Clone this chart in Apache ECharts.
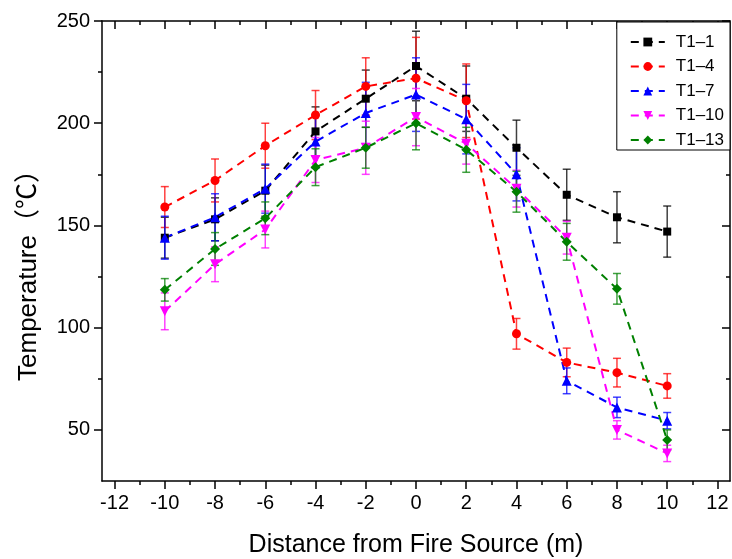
<!DOCTYPE html>
<html>
<head>
<meta charset="utf-8">
<script src="https://cdn.jsdelivr.net/npm/echarts@6/dist/echarts.min.js"></script>
<style>html,body{margin:0;padding:0;background:#fff}#c{width:732px;height:559px}</style>
</head>
<body>
<div id="c"></div>
<script>
const xs = [-10, -8, -6, -4, -2, 0, 2, 4, 6, 8, 10];
const t1_1 = [144, 153, 167, 196, 212, 228, 212, 188, 165, 154, 147];
const t1_1err = [10, 10.5, 12.5, 12, 14, 17, 16, 13.5, 12.5, 12.5, 12.5];
const t1_4 = [159, 172, 189, 204, 218, 222, 211, 97, 83, 78, 71.5];
const t1_4err = [10, 10.5, 11, 12, 14, 20, 18, 7.5, 7, 7, 6];
const t1_7 = [144, 154, 168, 191, 205, 214, 202, 175, 74, 61, 54.5];
const t1_7err = [10.5, 11.5, 12, 13, 15, 18, 17, 13, 6.3, 5, 4];
const t1_10 = [108, 131, 148, 182, 188, 203, 190, 168, 144, 50, 38.5];
const t1_10err = [9, 8.5, 9, 11, 13, 14, 10, 9, 8, 4.5, 4];
const t1_13 = [118.5, 138.5, 153.5, 178.5, 188, 200, 187, 166.5, 142, 119, 45];
const t1_13err = [5.5, 8, 8, 9, 10, 13, 11, 10, 9, 7.5, 5];

const names = ['T1\u20131', 'T1\u20134', 'T1\u20137', 'T1\u201310', 'T1\u201313'];
const colors = ['#000000', '#ff0000', '#0000ff', '#ff00ff', '#008000'];
const symbols = ['rect', 'circle', 'triangle', 'path://M0,0 L10,0 L5,9 Z', 'diamond'];
const symbolSizes = [8, 9, 10, 10, 10];
const values = [t1_1, t1_4, t1_7, t1_10, t1_13];
const errs = [t1_1err, t1_4err, t1_7err, t1_10err, t1_13err];

const xMajor = [-12, -10, -8, -6, -4, -2, 0, 2, 4, 6, 8, 10, 12];
const xMinor = [-11, -9, -7, -5, -3, -1, 1, 3, 5, 7, 9, 11];
const yMajor = [50, 100, 150, 200, 250];
const yMinor = [75, 125, 175, 225];

const FONT = 'Liberation Sans, Arial, sans-serif';
const chart = echarts.init(document.getElementById('c'));

function mkX(pos, ticks, len, inside, showLine, labels) {
  return {
    type: 'value', position: pos, min: -12.5, max: 12.5,
    axisLine: { show: showLine, onZero: false, lineStyle: { color: '#000', width: 1.5 } },
    axisTick: { show: true, customValues: ticks, length: len, inside: inside, lineStyle: { color: '#000', width: 1.5 } },
    axisLabel: labels ? { show: true, customValues: ticks, fontSize: 20, color: '#000', fontFamily: FONT, margin: 12 } : { show: false },
    splitLine: { show: false }
  };
}
function mkY(pos, ticks, len, inside, showLine, labels) {
  return {
    type: 'value', position: pos, min: 25, max: 250,
    axisLine: { show: showLine, onZero: false, lineStyle: { color: '#000', width: 1.5 } },
    axisTick: { show: true, customValues: ticks, length: len, inside: inside, lineStyle: { color: '#000', width: 1.5 } },
    axisLabel: labels ? { show: true, customValues: ticks, fontSize: 20, color: '#000', fontFamily: FONT, margin: 12 } : { show: false },
    splitLine: { show: false }
  };
}

const xAxes = [
  mkX('bottom', xMajor, 8, false, true, true),
  mkX('bottom', xMinor, 4, false, false, false),
  mkX('top', xMajor, 8, true, true, false),
  mkX('top', xMinor, 4, true, false, false)
];
Object.assign(xAxes[0], {
  name: 'Distance from Fire Source (m)', nameLocation: 'middle', nameGap: 52,
  nameTextStyle: { fontSize: 25, color: '#000', fontFamily: FONT }
});
const yAxes = [
  mkY('left', yMajor, 8, false, true, true),
  mkY('left', yMinor, 4, false, false, false),
  mkY('right', yMajor, 8, true, true, false),
  mkY('right', yMinor, 4, true, false, false)
];
Object.assign(yAxes[0], {
  name: 'Temperature\uff08\u2103\uff09', nameLocation: 'middle', nameGap: 60,
  nameTextStyle: { fontSize: 26, color: '#000', fontFamily: FONT + ', Noto Sans CJK SC', padding: [0, 36, 0, 0] }
});

const series = [];
values.forEach((vals, i) => {
  series.push({
    type: 'custom', name: 'err' + i, xAxisIndex: 0, yAxisIndex: 0, z: 2,
    data: xs.map((x, k) => [x, vals[k] - errs[i][k], vals[k] + errs[i][k]]),
    renderItem: function (params, api) {
      const lo = api.coord([api.value(0), api.value(1)]);
      const hi = api.coord([api.value(0), api.value(2)]);
      const hw = 4;
      const st = { stroke: colors[i], lineWidth: 1.5, opacity: 0.75 };
      return {
        type: 'group', children: [
          { type: 'line', shape: { x1: lo[0], y1: lo[1], x2: hi[0], y2: hi[1] }, style: st },
          { type: 'line', shape: { x1: lo[0] - hw, y1: lo[1], x2: lo[0] + hw, y2: lo[1] }, style: st },
          { type: 'line', shape: { x1: hi[0] - hw, y1: hi[1], x2: hi[0] + hw, y2: hi[1] }, style: st }
        ]
      };
    },
    silent: true, animation: false
  });
});
values.forEach((vals, i) => {
  series.push({
    type: 'line', name: names[i], xAxisIndex: 0, yAxisIndex: 0, z: 3,
    data: xs.map((x, k) => [x, vals[k]]),
    symbol: symbols[i], symbolSize: symbolSizes[i],
    itemStyle: { color: colors[i] },
    lineStyle: { color: colors[i], width: 2, type: [8, 6] },
    animation: false
  });
});

chart.setOption({
  animation: false,
  grid: { left: 102, right: 2, top: 21, bottom: 78, containLabel: false, outerBoundsMode: 'none' },
  xAxis: xAxes,
  yAxis: yAxes,
  legend: {
    data: names, orient: 'vertical', right: 2, top: 22,
    backgroundColor: '#fff', borderColor: '#000', borderWidth: 1,
    padding: [11, 6, 1, 13], itemGap: 6.5, itemWidth: 34, itemHeight: 11,
    textStyle: { fontSize: 17, lineHeight: 18, color: '#000', fontFamily: FONT, padding: [0, 0, 0, 6] }
  },
  series: series
});
</script>
</body>
</html>
